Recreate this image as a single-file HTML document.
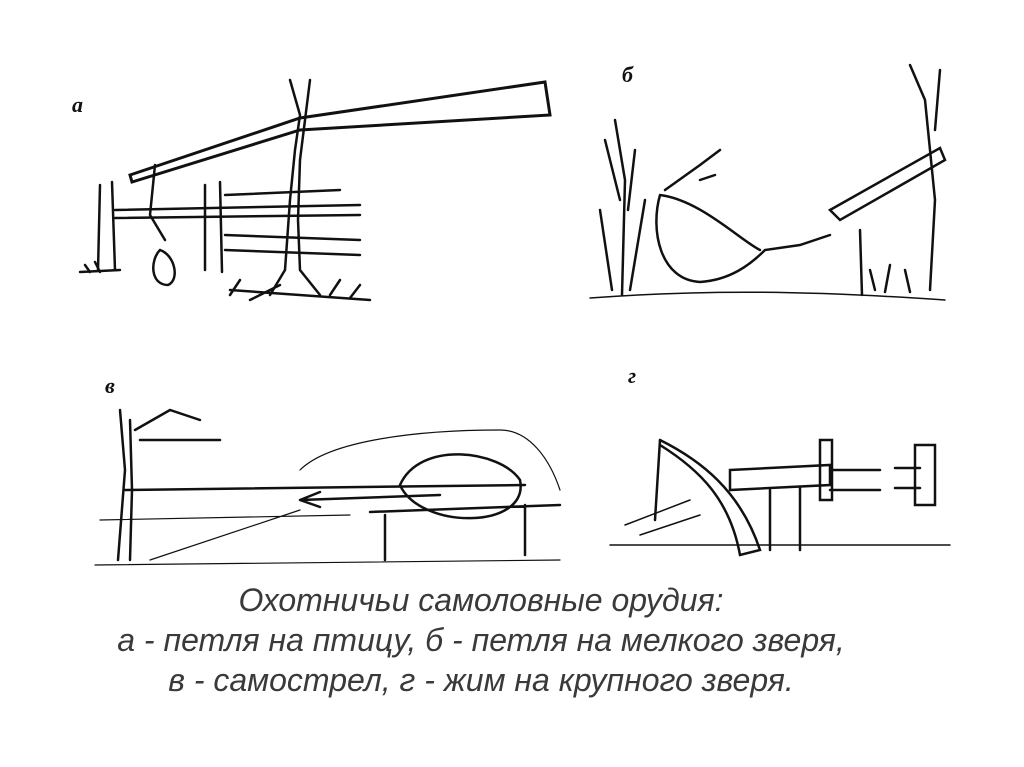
<!DOCTYPE html>
<html><head><meta charset="utf-8"><style>
html,body{margin:0;padding:0;background:#fff;}
body{width:1024px;height:767px;position:relative;overflow:hidden;}
svg{position:absolute;left:0;top:0;}
.cap{position:absolute;left:0;width:962px;text-align:center;font-family:"Liberation Sans",sans-serif;font-style:italic;font-size:32px;line-height:36px;color:#3a3a3a;white-space:nowrap;}
</style></head><body>
<svg width="1024" height="767" viewBox="0 0 1024 767" fill="none" stroke="#111" stroke-width="2.5" stroke-linecap="round">
<text x="72" y="112" font-family="Liberation Serif" font-style="italic" font-weight="bold" font-size="22" fill="#111" stroke="none">a</text>
<path d="M130 175 L300 118 L545 82 L550 115 L300 130 L132 182 Z" stroke-width="3"/>
<path d="M290 80 L300 115 L295 150 L290 200 L285 270 L270 295 M310 80 L305 120 L300 160 L298 220 L300 270 L320 295"/>
<path d="M100 185 L98 270 M112 182 L115 270 M205 185 L205 270 M220 182 L222 272"/>
<path d="M115 210 L360 205 M115 218 L360 215 M225 235 L360 240 M225 250 L360 255 M225 195 L340 190"/>
<path d="M155 165 L150 215 L165 240 M160 250 C150 260 150 285 168 285 C180 280 175 255 160 250"/>
<path d="M80 272 L120 270 M230 290 L370 300 M250 300 L280 285 M85 265 L90 272 M95 262 L100 272 M230 295 L240 280 M330 295 L340 280 M350 298 L360 285"/>
<text x="622" y="82" font-family="Liberation Serif" font-style="italic" font-weight="bold" font-size="22" fill="#111" stroke="none">б</text>
<path d="M615 120 L625 180 L622 295 M605 140 L620 200 M635 150 L628 210 M600 210 L612 290 M645 200 L630 290"/>
<path d="M660 195 C700 200 740 240 760 250 M660 195 C650 230 660 280 700 282 C730 280 750 265 765 250 L800 245 L830 235"/>
<path d="M830 210 L940 148 L945 160 L840 220 Z"/>
<path d="M910 65 L925 100 L935 200 L930 290 M940 70 L935 130 M860 230 L862 295"/>
<path d="M590 298 C700 290 800 290 945 300" stroke-width="1.5"/>
<path d="M665 190 L700 165 L720 150 M700 180 L715 175 M870 270 L875 290 M890 265 L885 292 M905 270 L910 292"/>
<text x="105" y="393" font-family="Liberation Serif" font-style="italic" font-weight="bold" font-size="22" fill="#111" stroke="none">в</text>
<path d="M120 410 L125 470 L118 560 M130 420 L132 490 L130 560 M135 430 L170 410 L200 420 M140 440 L220 440"/>
<path d="M125 490 L525 485"/>
<path d="M300 500 L440 495 M300 500 L320 492 M300 500 L320 507"/>
<path d="M400 485 C420 440 500 450 520 480 C530 530 420 530 400 485 Z"/>
<path d="M370 512 L560 505 M385 515 L385 560 M525 505 L525 555"/>
<path d="M300 470 C330 440 420 430 500 430 C530 430 550 460 560 490" stroke-width="1.2"/>
<path d="M100 520 L350 515 M150 560 L300 510 M95 565 L560 560" stroke-width="1.2"/>
<text x="628" y="383" font-family="Liberation Serif" font-style="italic" font-weight="bold" font-size="22" fill="#111" stroke="none">г</text>
<path d="M660 440 C700 460 740 490 760 550 L740 555 C730 500 700 470 660 445"/>
<path d="M660 440 L655 520 M730 470 L830 465 L830 485 L730 490 Z"/>
<path d="M770 490 L770 550 M800 488 L800 550 M820 440 L832 440 L832 500 L820 500 Z M915 445 L935 445 L935 505 L915 505 Z"/>
<path d="M830 470 L880 470 M830 490 L880 490 M895 468 L920 468 M895 488 L920 488"/>
<path d="M625 525 L690 500 M640 535 L700 515 M610 545 L950 545" stroke-width="1.5"/>
</svg>
<div class="cap" style="top:582px">Охотничьи самоловные орудия:</div>
<div class="cap" style="top:622px">а - петля на птицу, б - петля на мелкого зверя,</div>
<div class="cap" style="top:662px">в - самострел, г - жим на крупного зверя.</div>
</body></html>
